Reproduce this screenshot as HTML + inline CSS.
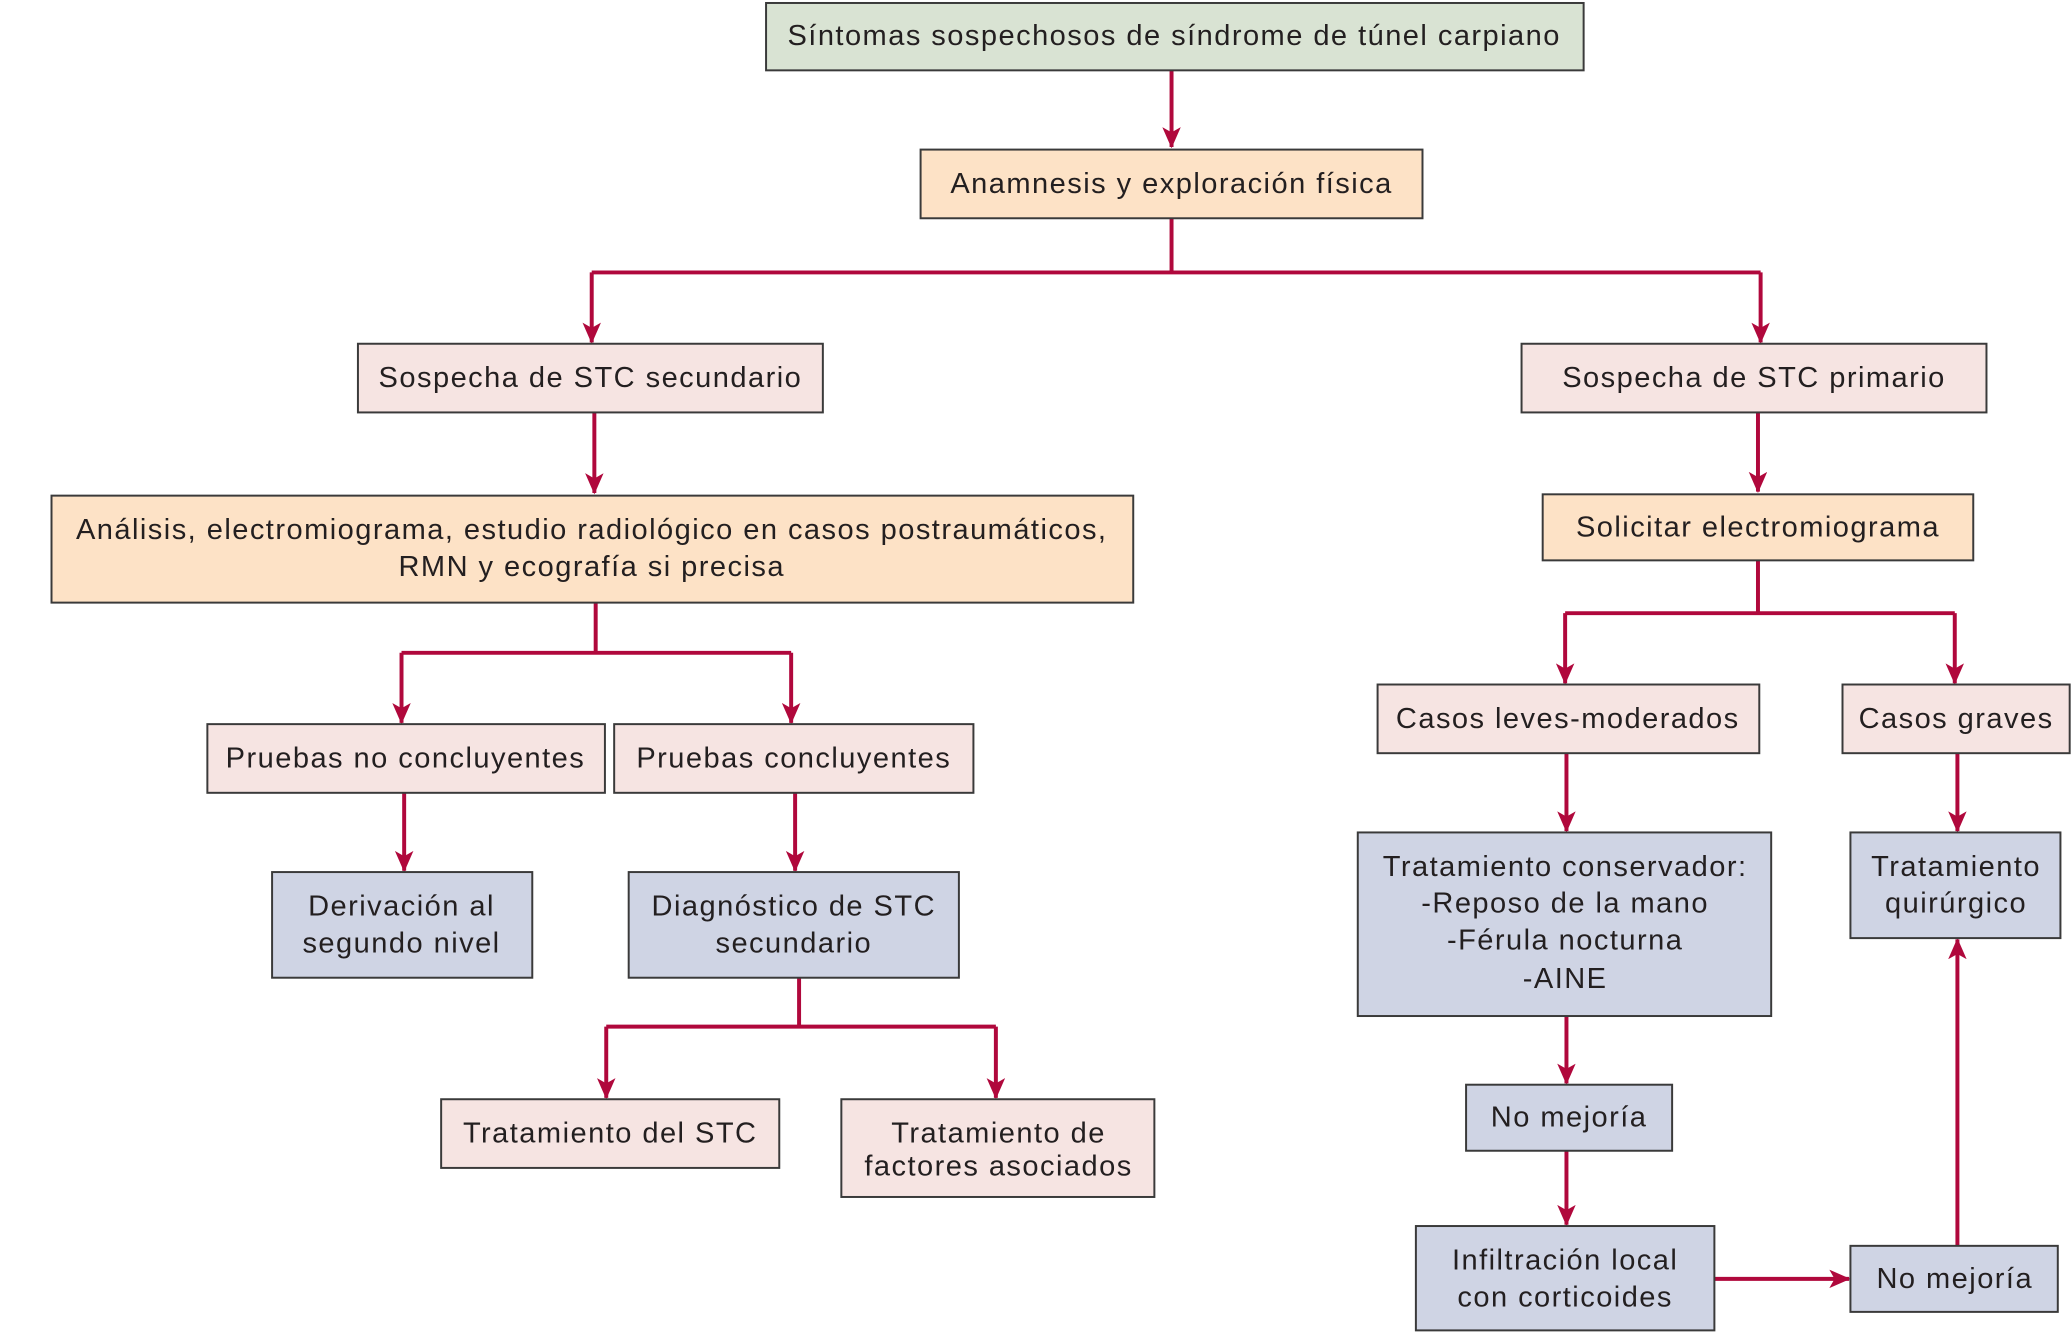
<!DOCTYPE html>
<html><head><meta charset="utf-8"><style>
html,body{margin:0;padding:0;background:#fff;overflow:hidden}
svg{display:block}
text{font-family:"Liberation Sans",sans-serif;font-size:22px;letter-spacing:1.1px;fill:#231f20;text-anchor:middle;dominant-baseline:central}
.b{stroke:#3a3a3a;stroke-width:1.5}
.g{fill:#d9e3d3}.o{fill:#fde2c6}.p{fill:#f6e4e2}.u{fill:#cfd4e4}
.l{stroke:#b0083c;stroke-width:3;fill:none}
</style></head><body>
<svg width="2071" height="1336" viewBox="0 0 1568 1011" xmlns="http://www.w3.org/2000/svg">
<defs><marker id="a" viewBox="0 0 16 14" refX="15" refY="7" markerWidth="16" markerHeight="14" markerUnits="userSpaceOnUse" orient="auto"><path d="M0,0 L16,7 L0,14 L4,7 Z" fill="#b0083c"/></marker></defs>

<g class="l">
<path d="M887,53 V111" marker-end="url(#a)"/>
<path d="M887,165 V206 M448,206 H1333"/>
<path d="M448,206 V259" marker-end="url(#a)"/>
<path d="M1333,206 V259" marker-end="url(#a)"/>
<path d="M450,312 V373" marker-end="url(#a)"/>
<path d="M1331,312 V372" marker-end="url(#a)"/>
<path d="M451,456 V494 M304,494 H599"/>
<path d="M304,494 V547" marker-end="url(#a)"/>
<path d="M599,494 V547" marker-end="url(#a)"/>
<path d="M306,600 V659" marker-end="url(#a)"/>
<path d="M602,600 V659" marker-end="url(#a)"/>
<path d="M605,740 V777 M459,777 H754"/>
<path d="M459,777 V831" marker-end="url(#a)"/>
<path d="M754,777 V831" marker-end="url(#a)"/>
<path d="M1331,424 V464 M1185,464 H1480"/>
<path d="M1185,464 V517" marker-end="url(#a)"/>
<path d="M1480,464 V517" marker-end="url(#a)"/>
<path d="M1186,570 V629" marker-end="url(#a)"/>
<path d="M1482,570 V629" marker-end="url(#a)"/>
<path d="M1186,769 V820" marker-end="url(#a)"/>
<path d="M1186,871 V927" marker-end="url(#a)"/>
<path d="M1298,968 H1400" marker-end="url(#a)"/>
<path d="M1482,943 V711" marker-end="url(#a)"/>
</g>

<rect class="b g" x="580" y="2" width="619" height="51"/>
<text x="889" y="27">Síntomas sospechosos de síndrome de túnel carpiano</text>
<rect class="b o" x="697" y="113" width="380" height="52"/>
<text x="887" y="139">Anamnesis y exploración física</text>
<rect class="b p" x="271" y="260" width="352" height="52"/>
<text x="447" y="286">Sospecha de STC secundario</text>
<rect class="b p" x="1152" y="260" width="352" height="52"/>
<text x="1328" y="286">Sospecha de STC primario</text>
<rect class="b o" x="39" y="375" width="819" height="81"/>
<text x="448" y="401">Análisis, electromiograma, estudio radiológico en casos postraumáticos,</text>
<text x="448" y="429">RMN y ecografía si precisa</text>
<rect class="b o" x="1168" y="374" width="326" height="50"/>
<text x="1331" y="399">Solicitar electromiograma</text>
<rect class="b p" x="157" y="548" width="301" height="52"/>
<text x="307" y="574">Pruebas no concluyentes</text>
<rect class="b p" x="465" y="548" width="272" height="52"/>
<text x="601" y="574">Pruebas concluyentes</text>
<rect class="b u" x="206" y="660" width="197" height="80"/>
<text x="304" y="686">Derivación al</text>
<text x="304" y="714">segundo nivel</text>
<rect class="b u" x="476" y="660" width="250" height="80"/>
<text x="601" y="686">Diagnóstico de STC</text>
<text x="601" y="714">secundario</text>
<rect class="b p" x="334" y="832" width="256" height="52"/>
<text x="462" y="858">Tratamiento del STC</text>
<rect class="b p" x="637" y="832" width="237" height="74"/>
<text x="756" y="858">Tratamiento de</text>
<text x="756" y="883">factores asociados</text>
<rect class="b p" x="1043" y="518" width="289" height="52"/>
<text x="1187" y="544">Casos leves-moderados</text>
<rect class="b p" x="1395" y="518" width="172" height="52"/>
<text x="1481" y="544">Casos graves</text>
<rect class="b u" x="1028" y="630" width="313" height="139"/>
<text x="1185" y="656">Tratamiento conservador:</text>
<text x="1185" y="684">-Reposo de la mano</text>
<text x="1185" y="712">-Férula nocturna</text>
<text x="1185" y="741">-AINE</text>
<rect class="b u" x="1401" y="630" width="159" height="80"/>
<text x="1481" y="656">Tratamiento</text>
<text x="1481" y="684">quirúrgico</text>
<rect class="b u" x="1110" y="821" width="156" height="50"/>
<text x="1188" y="846">No mejoría</text>
<rect class="b u" x="1072" y="928" width="226" height="79"/>
<text x="1185" y="954">Infiltración local</text>
<text x="1185" y="982">con corticoides</text>
<rect class="b u" x="1401" y="943" width="157" height="50"/>
<text x="1480" y="968">No mejoría</text>

<text x="0" y="1020" style="text-anchor:start;font-size:17px;fill:#555;letter-spacing:0"><tspan font-weight="bold">Figura 14.</tspan> Algoritmo diagnóstico y terapéutico del síndrome del túnel carpiano.</text>
</svg>
</body></html>
